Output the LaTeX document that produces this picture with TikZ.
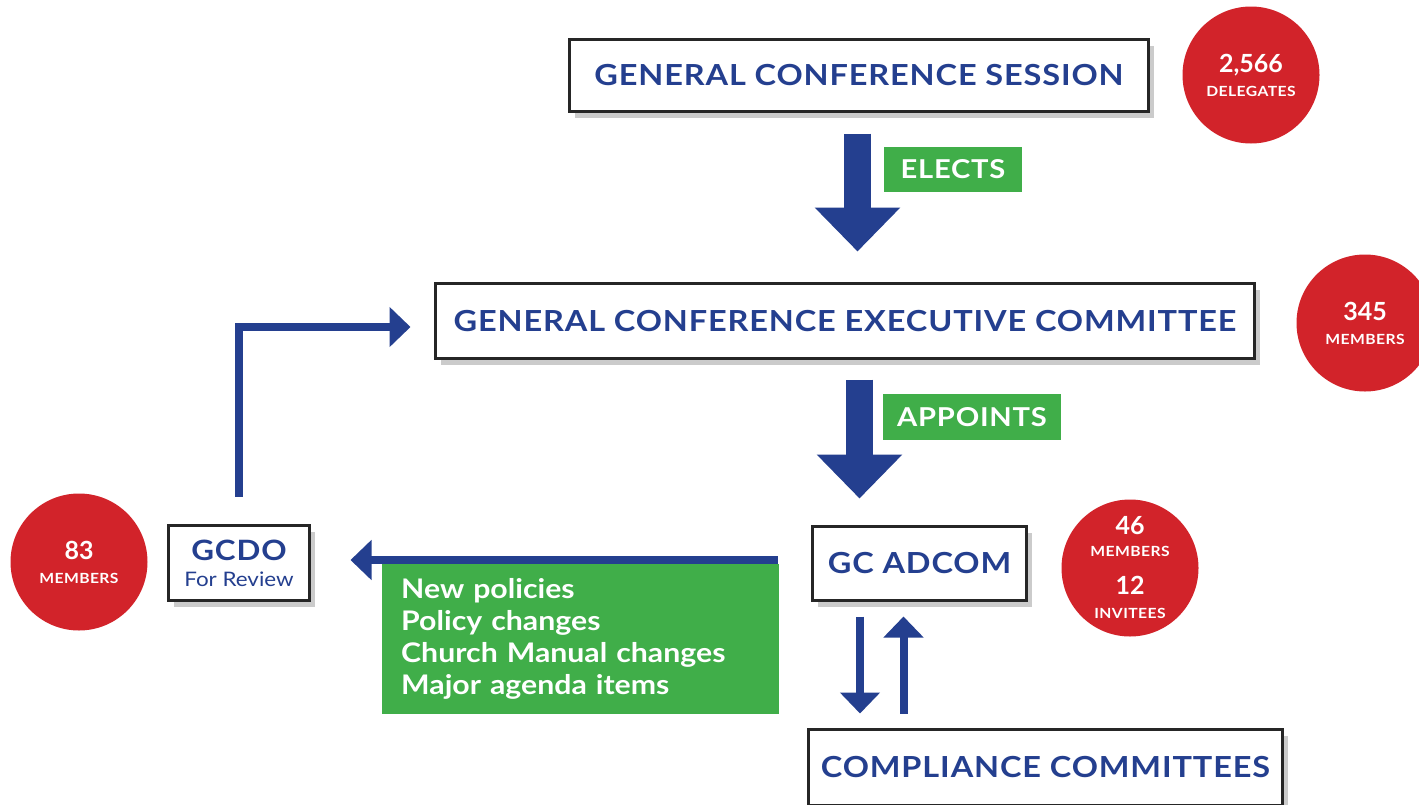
\documentclass[tikz,border=0pt]{standalone}
\usepackage{fontspec}
\setmainfont{Lato}
\newfontfamily\widefont{Lato}[FakeStretch=1.12]
\newfontfamily\capsfont{Lato}[FakeStretch=1.12, LetterSpace=3]
\usetikzlibrary{arrows.meta,shadows}

\definecolor{gcblue}{HTML}{243F8F}
\definecolor{gcred}{HTML}{D2232A}
\definecolor{gcgreen}{HTML}{40AE49}

\newcommand{\cnum}[1]{{\fontsize{25}{24}\selectfont\bfseries #1}}
\newcommand{\clab}[1]{{\capsfont\fontsize{14}{24}\selectfont\bfseries #1}}

\begin{document}
\begin{tikzpicture}
            [x=1pt, y=-1pt,
            box/.style={draw=black!85, line width=3pt, fill=white, text=gcblue, align=center, inner sep=0pt,
                drop shadow={shadow xshift=5pt, shadow yshift=-6pt, fill=black!45, opacity=.45},
                font=\capsfont\fontsize{29}{34}\selectfont\bfseries},
            count/.style={circle, fill=gcred, text=white, align=center, inner sep=0pt,
                minimum size=137pt, font=\fontsize{14}{24}\selectfont},
            verb/.style={fill=gcgreen, text=white, inner sep=0pt, font=\capsfont\fontsize{26}{30}\selectfont\bfseries},
            thick arrow/.style={gcblue, line width=27pt, -{Triangle[width=83pt, length=44pt]}},
            thin arrow/.style={gcblue, line width=8pt, -{Triangle[width=39pt, length=21pt]}}]

            \useasboundingbox (0,0) rectangle (1419,804);

            % boxes
            \node[box, minimum width=579pt, minimum height=72pt] (session) at (859,75.5) {GENERAL CONFERENCE SESSION};
            \node[box, minimum width=819pt, minimum height=75pt] (executive) at (845,321) {GENERAL CONFERENCE EXECUTIVE COMMITTEE};
            \node[box, minimum width=214pt, minimum height=74pt] (adcom) at (919.5,563.5) {GC ADCOM};
            \node[box, minimum width=474pt, minimum height=76pt] (compliance) at (1045.5,767.5) {COMPLIANCE COMMITTEES};
            \node[box, minimum width=141pt, minimum height=75pt, font=\capsfont\fontsize{28}{26}\selectfont\bfseries] (gcdo) at (239,563)
                {\raisebox{-4pt}{GCDO}\\{\widefont\fontsize{20}{22}\selectfont\mdseries\raisebox{-4pt}{For Review}}};

            % counts
            \node[count] (delegates) at (1251,75) {\cnum{2,566}\\\clab{DELEGATES}};
            \node[count] (execcount) at (1365,323) {\cnum{345}\\\clab{MEMBERS}};
            \node[count] (adcomcount) at (1130,568) {\cnum{46}\\[-2pt]\clab{MEMBERS}\\[14pt]\cnum{12}\\\clab{INVITEES}};
            \node[count] (gcdocount) at (79,562) {\cnum{83}\\\clab{MEMBERS}};

            % labels
            \node[verb, minimum width=138pt, minimum height=45pt] (elects) at (953,169.5) {ELECTS};
            \node[verb, minimum width=178pt, minimum height=46pt] (appoints) at (972,417) {APPOINTS};
            \node[verb, anchor=north west, minimum width=397pt, minimum height=150pt, inner xsep=19pt,
                text width=359pt, align=left, font=\widefont\fontsize{27}{32}\selectfont\bfseries] (items) at (382,564)
                {New policies\\Policy changes\\Church Manual changes\\Major agenda items};

            % arrows
            \coordinate (elx) at (857.5,0);
            \coordinate (apx) at (859.5,0);
            \coordinate (lefty) at (0,560);
            \coordinate (backy) at (0,327);
            \coordinate (downx) at (860,0);
            \coordinate (upx) at (903.5,0);

            \draw[thick arrow, shorten <=20.5pt, shorten >=30.5pt] (session.south -| elx) -- (executive.north -| elx);
            \draw[thick arrow, shorten <=19.5pt, shorten >=26.5pt] (executive.south -| apx) -- (adcom.north -| apx);
            \draw[thin arrow, shorten <=33.5pt, shorten >=39.5pt] (adcom.west |- lefty) -- (gcdo.east |- lefty);
            \draw[thin arrow, shorten <=27.5pt, shorten >=23.5pt] (gcdo.north) |- (executive.west |- backy);
            \draw[thin arrow, shorten <=14.5pt, shorten >=14.5pt] (adcom.south -| downx) -- (compliance.north -| downx);
            \draw[thin arrow, shorten <=14.5pt, shorten >=14.5pt] (compliance.north -| upx) -- (adcom.south -| upx);
        \end{tikzpicture}
\end{document}
